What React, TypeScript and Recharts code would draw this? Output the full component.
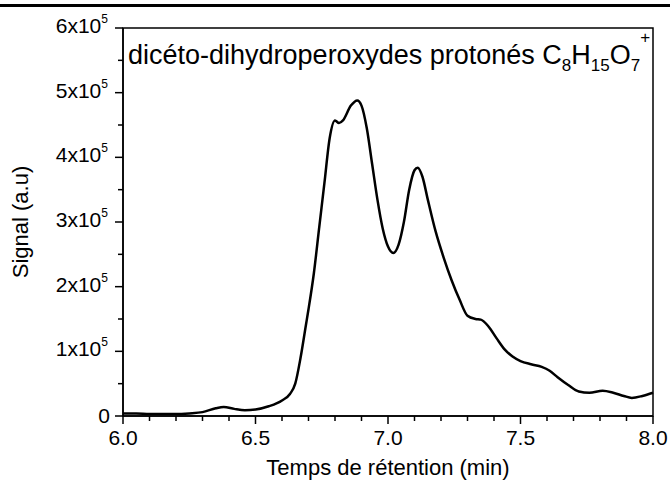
import React from "react";
import { LineChart, Line, XAxis, YAxis, ReferenceArea } from "recharts";

// Retention time (min)
const times = [
  6.0, 6.05, 6.1, 6.15, 6.2, 6.25, 6.3, 6.35, 6.38, 6.42, 6.46, 6.5, 6.55, 6.6,
  6.63, 6.65, 6.67, 6.69, 6.7, 6.72, 6.74, 6.76, 6.78, 6.8, 6.815, 6.83, 6.86,
  6.884, 6.9, 6.92, 6.94, 6.96, 6.98, 7.0, 7.02, 7.04, 7.06, 7.08, 7.1, 7.112,
  7.13, 7.15, 7.18, 7.21, 7.24, 7.27, 7.3, 7.33, 7.35, 7.38, 7.41, 7.44, 7.47,
  7.5, 7.54, 7.58, 7.61, 7.64, 7.68, 7.72, 7.76, 7.81, 7.85, 7.89, 7.92, 7.96,
  8.0,
];

// Signal (a.u.)
const signal = [
  4000, 4000, 3000, 3000, 3000, 4000, 6000, 12000, 14000, 11000, 9000, 10000,
  15000, 24000, 34000, 50000, 90000, 140000, 165000, 220000, 290000, 360000,
  430000, 457000, 453000, 457000, 480000, 488000, 480000, 445000, 390000,
  335000, 290000, 262000, 252000, 265000, 300000, 350000, 380000, 384000,
  370000, 335000, 285000, 245000, 210000, 180000, 155000, 150000, 149000,
  138000, 120000, 103000, 92000, 85000, 80000, 76000, 70000, 60000, 48000,
  38000, 36000, 39000, 36000, 31000, 28000, 31000, 36000,
];

const xTicks = [
  6.0, 6.1, 6.2, 6.3, 6.4, 6.5, 6.6, 6.7, 6.8, 6.9, 7.0, 7.1, 7.2, 7.3, 7.4,
  7.5, 7.6, 7.7, 7.8, 7.9, 8.0,
];
const xMajor = [6.0, 6.5, 7.0, 7.5, 8.0];

const yTicks = [
  0, 50000, 100000, 150000, 200000, 250000, 300000, 350000, 400000, 450000,
  500000, 550000, 600000,
];
const yMajor = [0, 100000, 200000, 300000, 400000, 500000, 600000];

const data = times.map((t, i) => ({ t, s: signal[i] }));

const FONT = "'Liberation Sans', Arial, sans-serif";

const isMajor = (list: number[], v: number) =>
  list.some((m) => Math.abs(m - v) < 1e-6);

const XTick = (props: any) => {
  const { x, y, payload } = props;
  const major = isMajor(xMajor, payload.value);
  return (
    <g>
      <line x1={x} x2={x} y1={y} y2={y + (major ? 8 : 5)} stroke="#000" strokeWidth={1.5} />
      {major && (
        <text x={x} y={y + 29} textAnchor="middle" fontSize={21} fontFamily={FONT} fill="#000">
          {payload.value.toFixed(1)}
        </text>
      )}
    </g>
  );
};

const YTick = (props: any) => {
  const { x, y, payload } = props;
  const v = payload.value;
  const major = isMajor(yMajor, v);
  const mant = Math.round(v / 100000);
  return (
    <g>
      <line x1={x - (major ? 8 : 5)} x2={x} y1={y} y2={y} stroke="#000" strokeWidth={1.5} />
      {major &&
        (v === 0 ? (
          <text x={x - 13} y={y + 7} textAnchor="end" fontSize={21} fontFamily={FONT} fill="#000">
            0
          </text>
        ) : (
          <text x={x - 15} y={y + 5} textAnchor="end" fontSize={21} fontFamily={FONT} fill="#000">
            {`${mant}x10`}
            <tspan fontSize={12} dy={-10}>5</tspan>
          </text>
        ))}
    </g>
  );
};

export default function App() {
  return (
    <div style={{ position: "absolute", left: 0, top: 0, width: 670, height: 483, background: "#fff" }}>
      <div style={{ position: "absolute", left: 0, top: 4, width: 670, height: 3, background: "#000" }} />
      <LineChart
        width={670}
        height={483}
        data={data}
        margin={{ top: 28, right: 17, left: 0, bottom: 0 }}
      >
        <XAxis
          dataKey="t"
          type="number"
          domain={[6, 8]}
          ticks={xTicks}
          interval={0}
          height={67}
          tickSize={0}
          tickMargin={0}
          tick={<XTick />}
          axisLine={{ stroke: "#000", strokeWidth: 1.5 }}
          tickLine={false}
          label={{
            value: "Temps de rétention (min)",
            position: "insideBottom",
            offset: 8,
            style: { fontSize: 22, fontFamily: FONT, fill: "#000" },
          }}
        />
        <YAxis
          type="number"
          domain={[0, 600000]}
          ticks={yTicks}
          interval={0}
          width={123}
          tickSize={0}
          tickMargin={0}
          tick={<YTick />}
          axisLine={{ stroke: "#000", strokeWidth: 1.5 }}
          tickLine={false}
          label={{
            value: "Signal (a.u)",
            angle: -90,
            position: "insideLeft",
            offset: 20,
            style: { fontSize: 22, fontFamily: FONT, fill: "#000", textAnchor: "middle" },
          }}
        />
        <ReferenceArea
          x1={6}
          x2={8}
          y1={0}
          y2={600000}
          fill="none"
          stroke="#000"
          strokeWidth={1.5}
          fillOpacity={0}
        />
        <Line
          type="monotone"
          dataKey="s"
          stroke="#000"
          strokeWidth={2.5}
          dot={false}
          isAnimationActive={false}
        />
        <text x={128} y={64} fontSize={27} fontFamily={FONT} fill="#000">
          dicéto-dihydroperoxydes protonés C
          <tspan fontSize={17} dy={7}>8</tspan>
          <tspan fontSize={27} dy={-7}>H</tspan>
          <tspan fontSize={17} dy={7}>15</tspan>
          <tspan fontSize={27} dy={-7}>O</tspan>
          <tspan fontSize={17} dy={7}>7</tspan>
          <tspan fontSize={17} dy={-28}>+</tspan>
        </text>
      </LineChart>
    </div>
  );
}
